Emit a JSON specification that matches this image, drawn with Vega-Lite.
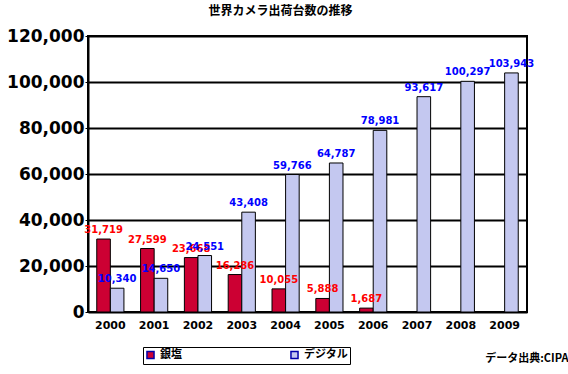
{
  "$schema": "https://vega.github.io/schema/vega-lite/v6.json",
  "autosize": "none",
  "width": 439,
  "height": 276,
  "padding": {"left": 88, "top": 36, "right": 41, "bottom": 62},
  "background": "white",
  "title": {"text": "世界カメラ出荷台数の推移", "fontSize": 12, "font": "Noto Sans CJK JP", "fontWeight": "bold", "anchor": "middle", "offset": 9, "dx": -27, "color": "black"},
  "data": {"values": [
    {"year": "2000", "type": "銀塩", "value": 31719, "label": "31,719"},
    {"year": "2000", "type": "デジタル", "value": 10340, "label": "10,340"},
    {"year": "2001", "type": "銀塩", "value": 27599, "label": "27,599"},
    {"year": "2001", "type": "デジタル", "value": 14650, "label": "14,650"},
    {"year": "2002", "type": "銀塩", "value": 23668, "label": "23,668"},
    {"year": "2002", "type": "デジタル", "value": 24551, "label": "24,551"},
    {"year": "2003", "type": "銀塩", "value": 16286, "label": "16,286"},
    {"year": "2003", "type": "デジタル", "value": 43408, "label": "43,408"},
    {"year": "2004", "type": "銀塩", "value": 10055, "label": "10,055"},
    {"year": "2004", "type": "デジタル", "value": 59766, "label": "59,766"},
    {"year": "2005", "type": "銀塩", "value": 5888, "label": "5,888"},
    {"year": "2005", "type": "デジタル", "value": 64787, "label": "64,787"},
    {"year": "2006", "type": "銀塩", "value": 1687, "label": "1,687"},
    {"year": "2006", "type": "デジタル", "value": 78981, "label": "78,981"},
    {"year": "2007", "type": "デジタル", "value": 93617, "label": "93,617"},
    {"year": "2008", "type": "デジタル", "value": 100297, "label": "100,297"},
    {"year": "2009", "type": "デジタル", "value": 103943, "label": "103,943"}
  ]},
  "encoding": {
    "x": {"field": "year", "type": "nominal", "scale": {"paddingInner": 0.38, "paddingOuter": 0.2},
      "axis": {"title": "データ出典:CIPA", "titleAnchor": "end", "titleAlign": "right", "titleFontSize": 11, "titleFont": "Noto Sans CJK JP", "titleFontWeight": "bold", "titleX": 480, "titleY": 40, "labelAngle": 0, "labelFont": "DejaVu Sans", "labelFontWeight": "bold", "labelFontSize": 11, "labelColor": "black", "domain": false, "ticks": false, "labelPadding": 7}},
    "xOffset": {"field": "type", "type": "nominal", "sort": ["銀塩", "デジタル"]},
    "y": {"field": "value", "type": "quantitative", "scale": {"domain": [0, 120000]},
      "axis": {"title": null, "values": [0, 20000, 40000, 60000, 80000, 100000, 120000], "format": ",d", "labelFont": "DejaVu Sans", "labelFontWeight": "bold", "labelFontSize": 17, "labelColor": "black", "gridColor": "black", "gridWidth": 2, "gridOpacity": 1, "domainColor": "black", "domainWidth": 2, "tickColor": "black", "tickSize": 3, "labelPadding": 1}}
  },
  "layer": [
    {
      "mark": {"type": "bar", "stroke": "black", "strokeWidth": 1},
      "encoding": {
        "color": {"field": "type", "type": "nominal", "sort": ["銀塩", "デジタル"],
          "scale": {"domain": ["銀塩", "デジタル"], "range": ["#cc0033", "#c4c8f0"]},
          "legend": {"title": null, "orient": "none", "legendX": 55, "legendY": 311, "direction": "horizontal", "columns": 2, "columnPadding": 105, "symbolType": "square", "symbolSize": 50, "symbolStrokeColor": "#0000aa", "labelFont": "Noto Sans CJK JP", "labelFontWeight": "bold", "labelFontSize": 11, "labelColor": "black", "labelExpr": "datum.label == 'デジタル' ? 'デジタル\u3000\u3000\u3000' : datum.label", "strokeColor": "black", "fillColor": "white", "padding": 2, "labelLimit": 200, "offset": 0}}
      }
    },
    {
      "mark": {"type": "text", "dy": -9, "font": "DejaVu Sans", "fontWeight": "bold", "fontSize": 10},
      "encoding": {
        "text": {"field": "label"},
        "color": {"field": "type", "type": "nominal", "scale": {"domain": ["銀塩", "デジタル"], "range": ["#ff0000", "#0000ff"]}, "legend": null}
      }
    }
  ],
  "resolve": {"scale": {"color": "independent"}},
  "config": {"view": {"stroke": "black", "strokeWidth": 2}, "legend": {"strokeColor": "black"}}
}
